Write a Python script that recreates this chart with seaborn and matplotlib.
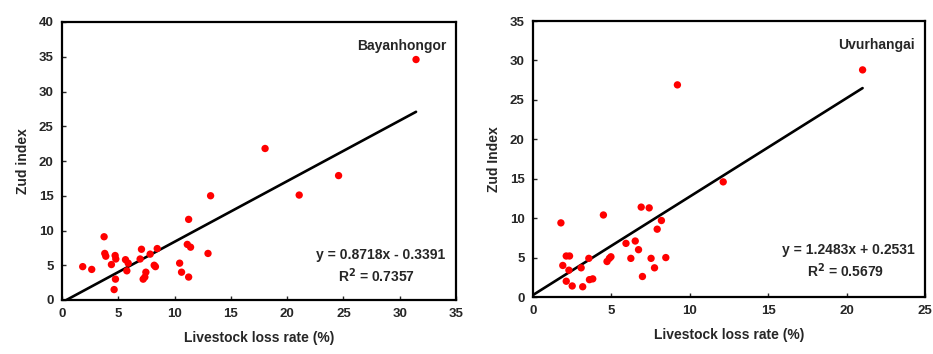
import numpy as np
import pandas as pd
import matplotlib
matplotlib.use("Agg")
import matplotlib.pyplot as plt
import seaborn as sns

# Bayanhongor
bay_loss = [31.45, 18.04, 24.57, 21.07, 13.2, 11.25, 3.74, 11.13, 11.42, 12.97,
            7.06, 8.46, 3.8, 3.89, 4.72, 4.78, 5.64, 5.88, 4.39, 7.83,
            6.94, 8.19, 8.3, 1.84, 2.64, 5.76, 10.45, 10.62, 7.45, 7.36,
            7.21, 4.75, 11.25, 4.63]
bay_zud = [34.6, 21.8, 17.9, 15.1, 15.0, 11.6, 9.1, 8.0, 7.6, 6.7,
           7.3, 7.4, 6.7, 6.3, 6.4, 5.9, 5.8, 5.3, 5.1, 6.6,
           5.9, 5.0, 4.8, 4.8, 4.4, 4.2, 5.3, 4.0, 4.0, 3.3,
           3.0, 3.0, 3.3, 1.5]

# Uvurhangai
uvu_loss = [21.02, 9.21, 12.13, 6.9, 7.41, 4.49, 1.78, 8.19, 7.92, 5.93,
            6.52, 6.73, 4.97, 4.87, 4.72, 6.24, 7.53, 8.47, 7.75, 6.98,
            2.12, 2.33, 1.9, 2.29, 3.56, 3.07, 3.6, 3.81, 2.12, 2.5, 3.17]
uvu_zud = [28.8, 26.9, 14.6, 11.4, 11.3, 10.4, 9.4, 9.7, 8.6, 6.8,
           7.1, 6.0, 5.1, 4.9, 4.5, 4.9, 4.9, 5.0, 3.7, 2.6,
           5.2, 5.2, 4.0, 3.4, 4.9, 3.7, 2.2, 2.3, 2.0, 1.4, 1.3]

panels = [
    dict(name="Bayanhongor", x=bay_loss, y=bay_zud, slope=0.8718, icpt=-0.3391,
         r2=0.7357, xmax=35, ymax=40, ylabel="Zud index",
         eq="y = 0.8718x - 0.3391", eq_y=0.162, r2_y=0.086,
         rect=[62/933, 54/354, 394/933, 278/354]),
    dict(name="Uvurhangai", x=uvu_loss, y=uvu_zud, slope=1.2483, icpt=0.2531,
         r2=0.5679, xmax=25, ymax=35, ylabel="Zud Index",
         eq="y = 1.2483x + 0.2531", eq_y=0.17, r2_y=0.094,
         rect=[533/933, 57/354, 392/933, 276/354]),
]

sns.set_style("white")
plt.rcParams['font.family'] = ['Liberation Sans', 'DejaVu Sans']
plt.rcParams['font.weight'] = 'bold'

fig = plt.figure(figsize=(9.33, 3.54), dpi=100)

for p in panels:
    ax = fig.add_axes(p["rect"])
    df = pd.DataFrame({"loss": p["x"], "zud": p["y"]})
    sns.scatterplot(data=df, x="loss", y="zud", color="red", s=28,
                    edgecolor="none", ax=ax, zorder=3)
    # trend line drawn from the reported fit, over the data range
    x0 = max(0.0, -p["icpt"] / p["slope"])
    x1 = max(p["x"])
    line = pd.DataFrame({"loss": [x0, x1]})
    line["zud"] = p["slope"] * line["loss"] + p["icpt"]
    sns.lineplot(data=line, x="loss", y="zud", color="black", linewidth=1.9, ax=ax)

    ax.set_xlim(0, p["xmax"])
    ax.set_ylim(0, p["ymax"])
    ax.set_xticks(np.arange(0, p["xmax"] + 1, 5))
    ax.set_yticks(np.arange(0, p["ymax"] + 1, 5))
    ax.tick_params(direction="in", length=3, width=1, labelsize=9.5,
                   bottom=True, left=True, pad=6)
    for s in ax.spines.values():
        s.set_linewidth(1.6)
        s.set_color("black")
    ax.set_xlabel("Livestock loss rate (%)", fontsize=10, fontweight="bold", labelpad=8)
    ax.set_ylabel(p["ylabel"], fontsize=10, fontweight="bold", labelpad=6)

    ax.text(0.975, 0.94, p["name"], transform=ax.transAxes, ha="right", va="top",
            fontsize=10, fontweight="bold")
    ax.text(0.973, p["eq_y"], p["eq"], transform=ax.transAxes, ha="right", va="center",
            fontsize=10, fontweight="bold")
    ax.text(0.895, p["r2_y"], "R$^2$ = %.4f" % p["r2"], transform=ax.transAxes, ha="right",
            va="center", fontsize=10, fontweight="bold")

fig.savefig("out.png", dpi=100)
